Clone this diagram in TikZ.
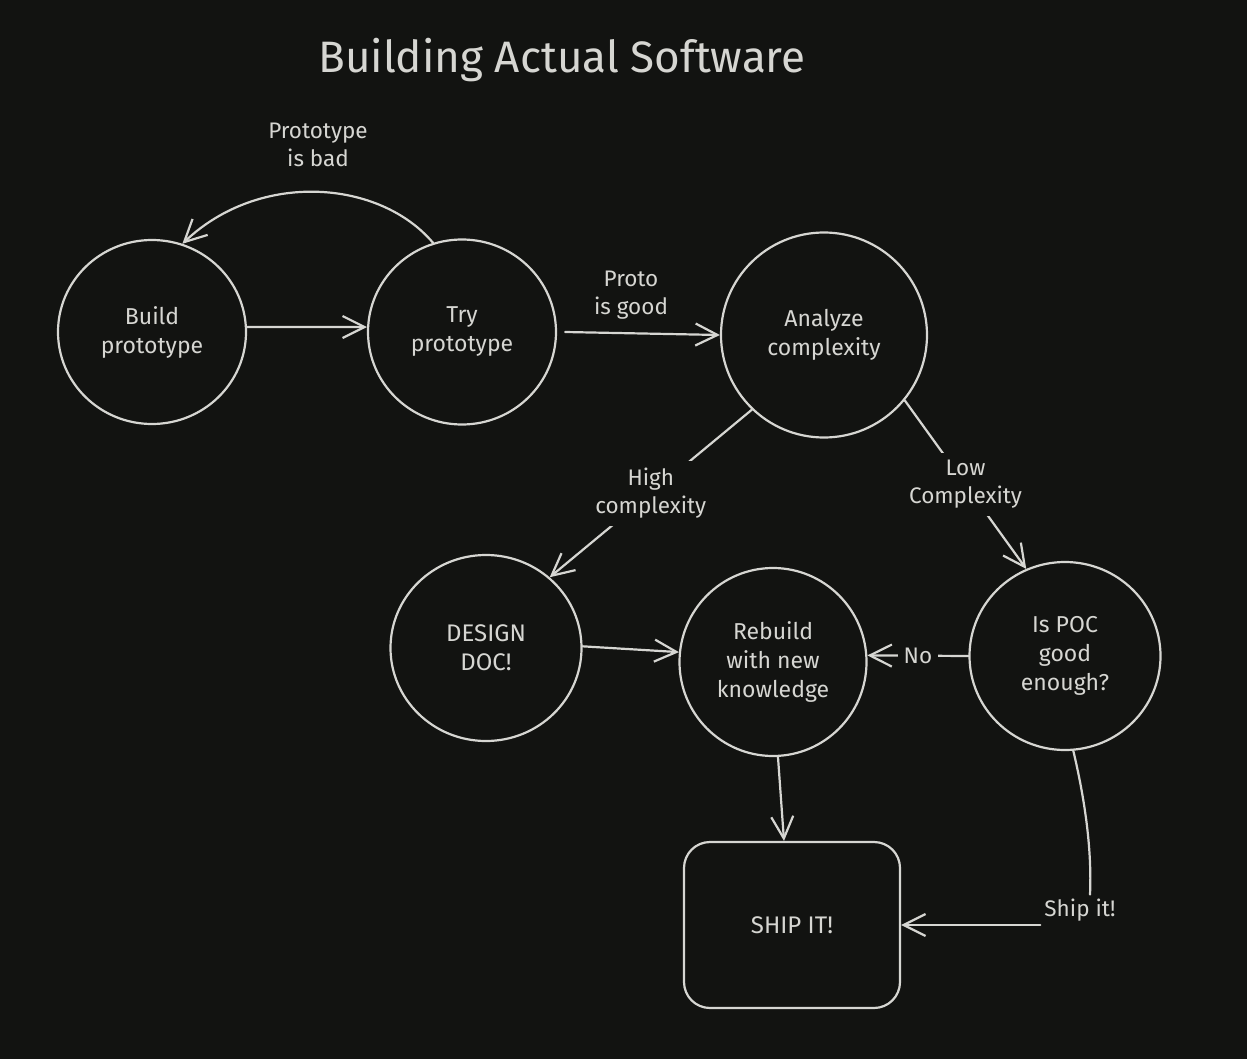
\documentclass[tikz,border=0pt]{standalone}
\usepackage{fontspec}
\setmainfont{Fira Sans}
\usetikzlibrary{shapes.geometric,arrows.meta}
\definecolor{bg}{RGB}{18,19,17}
\definecolor{fg}{RGB}{214,214,210}
\begin{document}
\begin{tikzpicture}[x=1pt,y=-1pt,
  state/.style={ellipse,draw=fg,line width=2.2pt,text=fg,align=center,inner sep=0pt,
    font=\fontsize{23}{29}\selectfont},
  shipbox/.style={rectangle,rounded corners=26pt,draw=fg,line width=2.2pt,text=fg,
    minimum width=216pt,minimum height=166pt,font=\fontsize{24}{29}\selectfont},
  lbl/.style={text=fg,align=center,inner sep=4pt,font=\fontsize{22.5}{28}\selectfont},
  lblf/.style={lbl,fill=bg,inner sep=7pt},
  link/.style={draw=fg,line width=2.2pt,line cap=round},
  edge/.style={link,-{Straight Barb[length=22pt,width=22pt,line width=2.2pt]}},
  title/.style={text=fg,font=\fontsize{44}{52}\selectfont}]
\fill[bg] (0,0) rectangle (1247,1059);
\useasboundingbox (0,0) rectangle (1247,1059);

\node[title] (ttl) at (562,60) {Building Actual Software};

\node[state,minimum width=188pt,minimum height=184pt] (build) at (152,332) {Build\\prototype};
\node[state,minimum width=188pt,minimum height=185pt] (try) at (462,332) {Try\\prototype};
\node[state,minimum width=206pt,minimum height=205pt] (analyze) at (824,335) {Analyze\\complexity};
\node[state,minimum width=191pt,minimum height=186pt,font=\fontsize{24}{29}\selectfont] (design) at (486,648) {DESIGN\\DOC!};
\node[state,minimum width=187pt,minimum height=188pt] (rebuild) at (773,662) {Rebuild\\with new\\knowledge};
\node[state,minimum width=191pt,minimum height=188pt] (poc) at (1065,656) {Is POC\\good\\enough?};
\node[shipbox] (ship) at (792,925) {SHIP IT!};

\node[lbl] (badl) at (318,145) {Prototype\\is bad};
\node[lbl] (goodl) at (631,295) {Proto\\is good};
\node[lbl] (shipl) at (1080,910) {Ship it!};

\draw[edge] (build.3) -- (try.177);
\draw[edge] (try.108) .. controls (380,180) and (260,170) .. (build.71);
\draw[edge] ([xshift=8pt]try.east) -- (analyze.west);
\draw[edge] (analyze.226) -- node[lblf] (highl) {High\\complexity} (design.48);
\draw[edge] (analyze.321) -- node[lblf] (lowl) {Low\\Complexity} (poc.114);
\draw[edge] (design.1) -- (rebuild.174);
\draw[edge] (poc.west) -- node[lblf,inner sep=6pt] (nol) {No} (rebuild.4);
\draw[edge] (rebuild.-87) -- ([xshift=-8pt]ship.north);
\draw[link] (poc.-85) .. controls (1085,800) and (1092,850) .. ([xshift=10pt]shipl.north);
\draw[edge] (shipl.west |- ship.east) -- (ship.east);
\end{tikzpicture}
\end{document}
